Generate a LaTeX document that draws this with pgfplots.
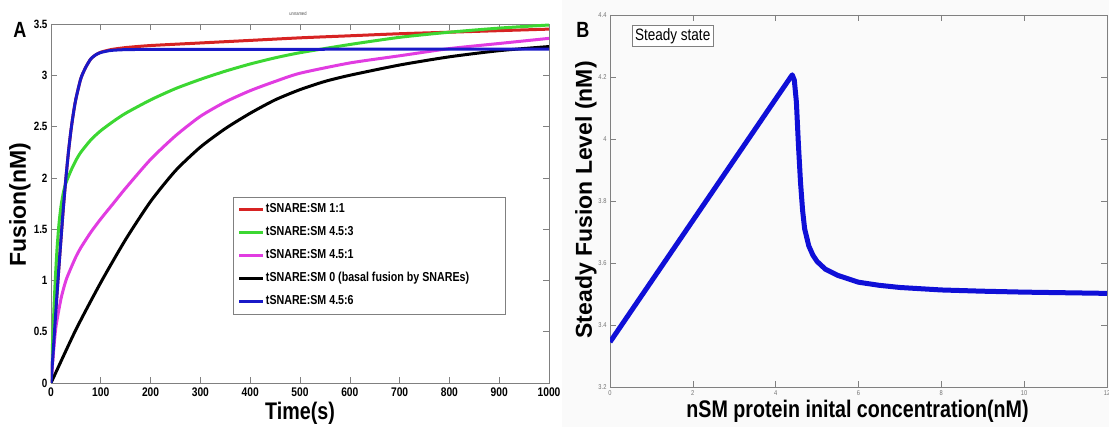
\documentclass[border=0pt]{standalone}
\usepackage{pgfplots}
\pgfplotsset{compat=1.18}
\usepackage{fontspec}
\setmainfont{Liberation Sans}
\newfontfamily\nar{Liberation Sans}[FakeStretch=0.82]
\definecolor{cred}{RGB}{215,35,35}
\definecolor{cgreen}{RGB}{60,215,50}
\definecolor{cmag}{RGB}{225,60,225}
\definecolor{cblue}{RGB}{25,25,200}
\definecolor{bblue}{RGB}{15,15,215}
\definecolor{axgray}{RGB}{128,128,128}
\definecolor{rightbg}{RGB}{250,250,250}
\begin{document}
\begin{tikzpicture}[x=1pt,y=1pt]
\useasboundingbox (0,0) rectangle (1109,427);
\fill[rightbg] (562,0) rectangle (1109,427);
\node[font=\nar\bfseries\fontsize{22}{22}\selectfont] at (20,397) {A};
\node[font=\nar\bfseries\fontsize{22}{22}\selectfont] at (583,397) {B};
\node[font=\nar\fontsize{5}{5}\selectfont, text=black!70] at (298,413) {unnamed};
\begin{axis}[
  at={(51pt,44pt)}, anchor=south west, scale only axis,
  width=498pt, height=359pt,
  xmin=0, xmax=1000, ymin=0, ymax=3.5,
  xtick={0,100,200,300,400,500,600,700,800,900,1000},
  ytick={0,0.5,1,1.5,2,2.5,3,3.5},
  /pgf/number format/assume math mode=true,
  /pgf/number format/1000 sep={},
  tick align=inside, major tick length=6pt,
  every tick/.style={axgray, line width=0.6pt},
  axis line style={axgray, line width=0.8pt},
  xticklabel style={font=\nar\bfseries\fontsize{12.5}{12.5}\selectfont, yshift=-1pt},
  yticklabel style={font=\nar\bfseries\fontsize{12}{12}\selectfont},
  xlabel={Time(s)},
  xlabel style={font=\nar\bfseries\fontsize{24}{24}\selectfont, at={(axis description cs:0.5,-0.0836)}, anchor=center},
  ylabel={Fusion(nM)},
  ylabel style={font=\bfseries\fontsize{23}{23}\selectfont, at={(axis description cs:-0.0622,0.496)}, anchor=center},
  legend cell align=left,
  legend style={at={(axis cs:365,1.813)}, anchor=north west, draw=axgray, fill=white,
    font=\nar\bfseries\fontsize{13}{13}\selectfont, inner sep=5pt, row sep=8.5pt,
    nodes={inner sep=1pt, text height=9.5pt, text depth=3pt}},
  legend image code/.code={\draw[#1] (0pt,0pt) -- (24pt,0pt);},
  every axis plot/.append style={line width=3pt, smooth, tension=0.4},
]
\addplot[cred] coordinates {
(0,0) (5,0.35) (10,0.72) (15,1.07) (20,1.4) (25,1.72) (30,2.0) (35,2.25) (40,2.46) (45,2.63) (50,2.77) (60,2.97) (70,3.08) (80,3.16) (90,3.2) (100,3.225) (120,3.25) (150,3.27) (200,3.29) (300,3.315) (400,3.34) (500,3.365) (600,3.385) (700,3.405) (800,3.42) (900,3.435) (1000,3.45)};
\addlegendentry{tSNARE:SM 1:1}
\addplot[cgreen] coordinates {
(0,0) (4,0.5) (8,0.95) (12,1.3) (16,1.55) (20,1.72) (25,1.86) (30,1.95) (40,2.07) (50,2.17) (60,2.25) (80,2.37) (100,2.46) (125,2.55) (150,2.63) (200,2.76) (250,2.87) (300,2.96) (350,3.04) (400,3.11) (450,3.17) (500,3.22) (600,3.30) (700,3.37) (800,3.42) (900,3.46) (1000,3.49)};
\addlegendentry{tSNARE:SM 4.5:3}
\addplot[cmag] coordinates {
(0,0) (5,0.3) (10,0.55) (20,0.82) (30,1.0) (40,1.12) (50,1.23) (60,1.32) (80,1.47) (100,1.6) (125,1.75) (150,1.9) (200,2.18) (250,2.41) (300,2.6) (350,2.74) (400,2.85) (450,2.94) (500,3.02) (600,3.12) (700,3.19) (800,3.26) (900,3.31) (1000,3.36)};
\addlegendentry{tSNARE:SM 4.5:1}
\addplot[black] coordinates {
(0,0) (50,0.52) (100,0.98) (150,1.4) (200,1.77) (250,2.07) (300,2.3) (350,2.48) (400,2.63) (450,2.76) (500,2.86) (550,2.94) (600,3.0) (700,3.1) (800,3.18) (900,3.24) (1000,3.28)};
\addlegendentry{tSNARE:SM 0 (basal fusion by SNAREs)\hbox to 30pt{}}
\addplot[cblue] coordinates {
(0,0) (5,0.35) (10,0.72) (15,1.07) (20,1.4) (25,1.72) (30,2.0) (35,2.25) (40,2.46) (45,2.63) (50,2.77) (60,2.97) (70,3.08) (80,3.16) (90,3.2) (100,3.222) (120,3.242) (150,3.25) (200,3.252) (400,3.253) (600,3.254) (800,3.255) (1000,3.256)};
\addlegendentry{tSNARE:SM 4.5:6}
\end{axis}
\begin{axis}[
  at={(610pt,40pt)}, anchor=south west, scale only axis,
  width=497pt, height=372pt,
  xmin=0, xmax=12, ymin=3.2, ymax=4.4,
  xtick={0,2,4,6,8,10,12},
  ytick={3.2,3.4,3.6,3.8,4,4.2,4.4},
  /pgf/number format/assume math mode=true,
  tick align=inside, major tick length=6pt,
  every tick/.style={axgray, line width=0.6pt},
  axis line style={axgray, line width=0.8pt},
  axis background/.style={fill=rightbg},
  xticklabel style={font=\nar\fontsize{7}{7}\selectfont, text=black!55},
  yticklabel style={font=\nar\fontsize{7}{7}\selectfont, text=black!55},
  xlabel={nSM protein inital concentration(nM)},
  xlabel style={font=\nar\bfseries\fontsize{24}{24}\selectfont, at={(axis description cs:0.498,-0.0645)}, anchor=center},
  ylabel={Steady Fusion Level (nM)},
  ylabel style={font=\bfseries\fontsize{23}{23}\selectfont, at={(axis description cs:-0.0483,0.503)}, anchor=center},
]
\addplot[bblue, line width=5pt, line join=round] coordinates {
(0,3.345) (1,3.541) (2,3.737) (3,3.933) (4,4.129) (4.40,4.207) (4.45,4.19) (4.5,4.12) (4.55,3.98) (4.6,3.86) (4.65,3.77) (4.7,3.71) (4.8,3.655) (4.9,3.625) (5.0,3.605) (5.2,3.58) (5.5,3.56) (6.0,3.538) (6.5,3.528) (7,3.521) (8,3.513) (9,3.509) (10,3.506) (11,3.504) (12,3.502)};
\node[draw=axgray, fill=white, anchor=north west, font=\nar\fontsize{16.5}{16.5}\selectfont, inner sep=3pt] at (rel axis cs:0.044,0.973) {Steady state};
\end{axis}
\end{tikzpicture}
\end{document}
